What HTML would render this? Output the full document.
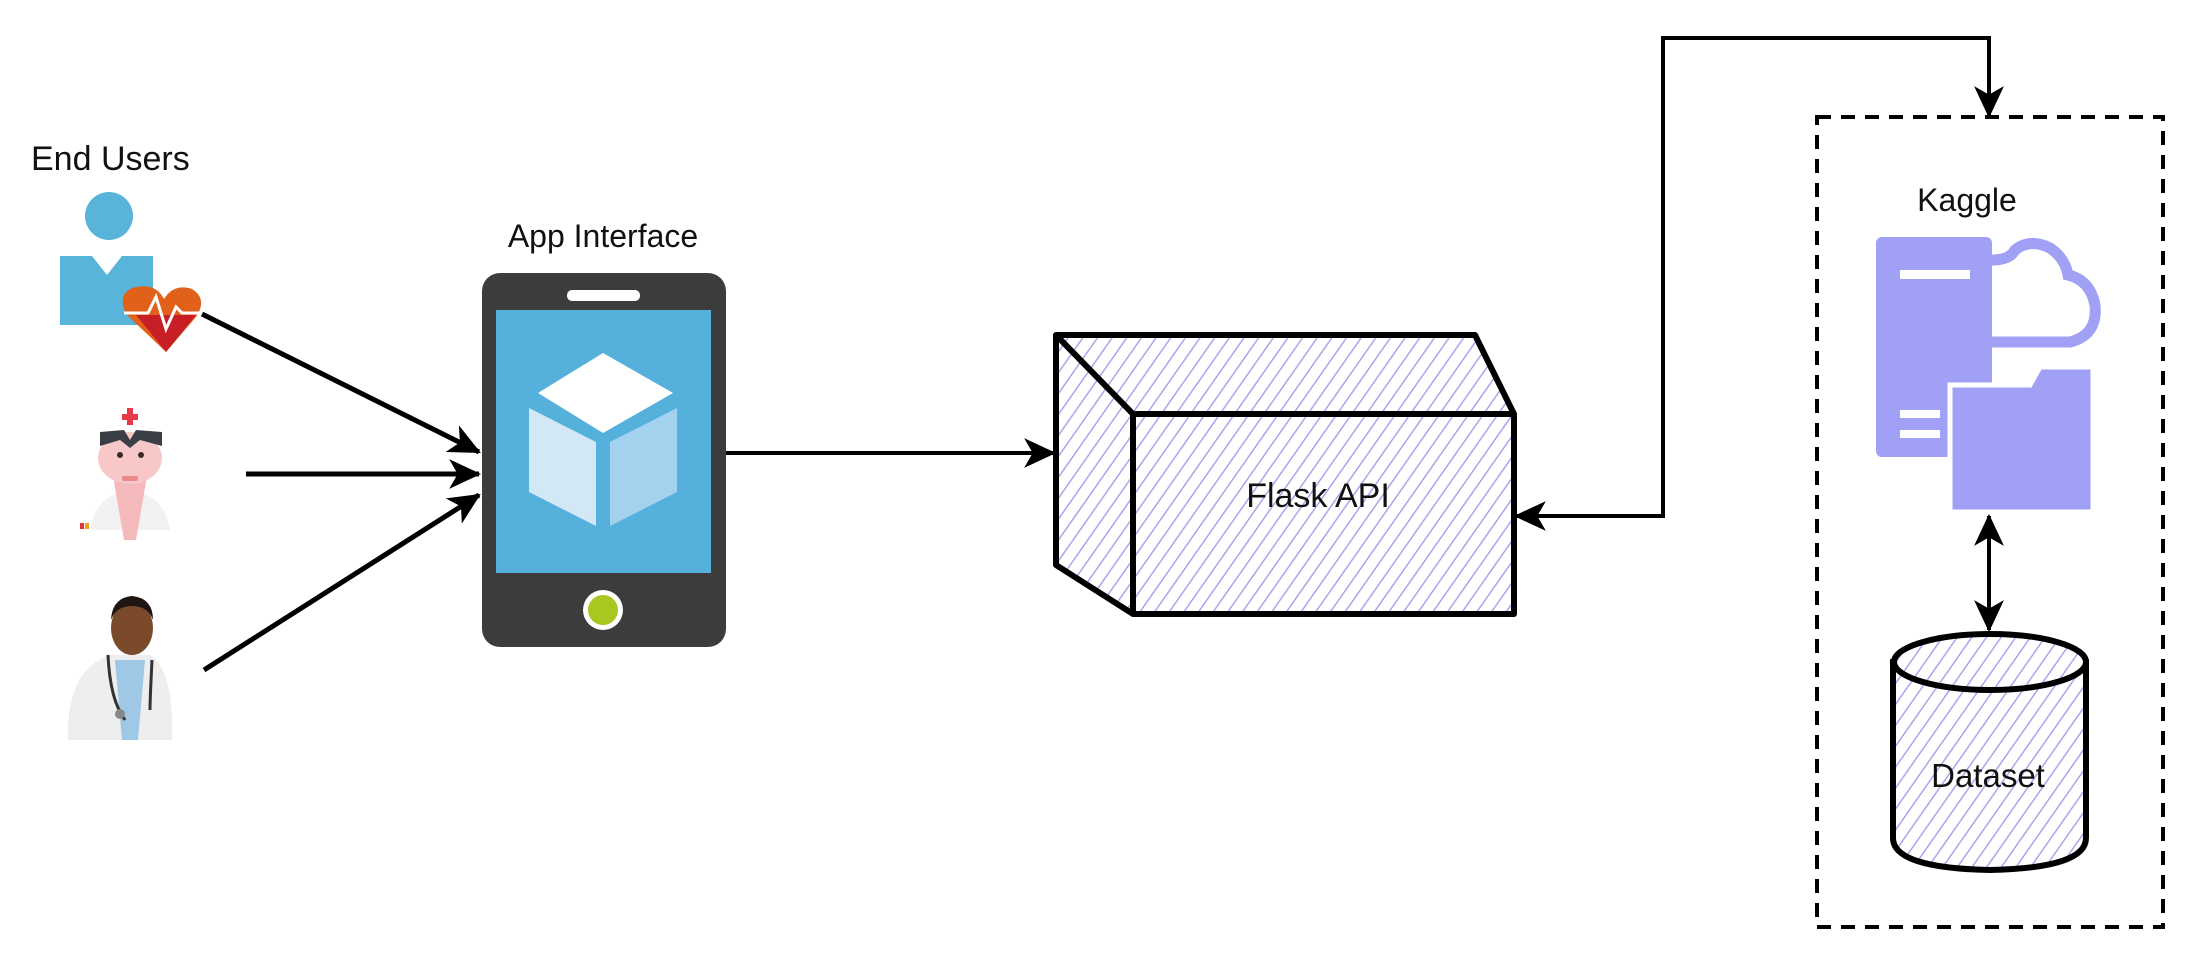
<!DOCTYPE html>
<html><head><meta charset="utf-8"><style>
html,body{margin:0;padding:0;background:#fff;}
svg{display:block;}
text{font-family:"Liberation Sans",sans-serif;fill:#111;}
</style></head><body>
<svg width="2187" height="963" viewBox="0 0 2187 963" xmlns="http://www.w3.org/2000/svg">
<defs>
<pattern id="h" patternUnits="userSpaceOnUse" width="12" height="12" patternTransform="rotate(35)">
<rect width="12" height="12" fill="#fff"/>
<line x1="0" y1="0" x2="0" y2="12" stroke="#aaa4ee" stroke-width="3"/>
</pattern>
<marker id="b" viewBox="0 0 30 30" markerWidth="32" markerHeight="32" refX="28" refY="15" orient="auto-start-reverse" markerUnits="userSpaceOnUse">
<path d="M0,1 L30,15 L0,29 L8,15 Z" fill="#000"/>
</marker>
</defs>

<!-- End users -->
<text x="31" y="170" font-size="34">End Users</text>
<circle cx="109" cy="216" r="24" fill="#59b4d9"/>
<path d="M60,256 L92,256 L107,275 L122,256 L153,256 L153,325 L60,325 Z" fill="#59b4d9"/>
<path d="M166,352 L126,314 Q116,292 136,287 Q156,283 164,299 Q174,283 192,289 Q208,299 196,317 Z" fill="#e2611a"/>
<path d="M136,315 L196,315 L166,352 Z" fill="#c81e25"/>
<path d="M124,313 L148,313 L156,297 L166,329 L176,307 L182,313 L204,313" fill="none" stroke="#fff" stroke-width="3"/>

<!-- nurse -->
<rect x="127" y="408" width="6" height="17" fill="#e8394a"/>
<rect x="122" y="414" width="16" height="6" fill="#e8394a"/>
<path d="M90,530 Q95,495 130,490 Q165,495 170,530 Z" fill="#f2f2f2"/>
<path d="M112,470 L148,470 L136,540 L124,540 Z" fill="#f4b9bb"/>
<ellipse cx="130" cy="458" rx="32" ry="26" fill="#f8c8c8"/>
<path d="M100,432 L124,430 L130,440 L136,430 L162,432 L162,446 L140,440 L130,448 L120,440 L100,446 Z" fill="#3a3f45"/>
<circle cx="120" cy="455" r="3" fill="#3a2a2a"/><circle cx="141" cy="455" r="3" fill="#3a2a2a"/>
<rect x="122" y="476" width="16" height="5" rx="2" fill="#e88a8c"/>
<rect x="80" y="523" width="4" height="6" fill="#d33"/><rect x="85" y="523" width="4" height="6" fill="#e9a520"/>

<!-- doctor -->
<path d="M68,740 Q66,670 110,655 L150,655 Q174,670 172,740 Z" fill="#eeeeee"/>
<path d="M115,660 L145,660 L138,740 L122,740 Z" fill="#9ec8e6"/>
<path d="M108,655 Q110,700 125,720 M152,660 Q150,700 150,710" stroke="#333" stroke-width="3" fill="none"/>
<circle cx="120" cy="714" r="5" fill="#888"/>
<ellipse cx="132" cy="628" rx="21" ry="27" fill="#7a4a2a"/>
<path d="M111,620 Q112,598 132,596 Q153,598 153,620 Q148,606 132,606 Q116,606 111,620 Z" fill="#1d1612"/>

<!-- arrows to app -->
<line x1="202" y1="314" x2="479" y2="452" stroke="#000" stroke-width="5" marker-end="url(#b)"/>
<line x1="246" y1="474" x2="479" y2="474" stroke="#000" stroke-width="5" marker-end="url(#b)"/>
<line x1="204" y1="670" x2="479" y2="495" stroke="#000" stroke-width="5" marker-end="url(#b)"/>

<!-- phone -->
<text x="603" y="247" font-size="32" text-anchor="middle">App Interface</text>
<rect x="482" y="273" width="244" height="374" rx="18" fill="#3c3c3c"/>
<rect x="496" y="310" width="215" height="263" fill="#55b1dc"/>
<rect x="567" y="290" width="73" height="11" rx="5" fill="#fff"/>
<circle cx="603" cy="610" r="20" fill="#fff"/>
<circle cx="603" cy="610" r="15" fill="#a8c81f"/>
<path d="M603,353 L673,393 L603,433 L538,393 Z" fill="#fff"/>
<path d="M529,408 L596,442 L596,526 L529,492 Z" fill="#d2e8f5"/>
<path d="M677,408 L610,442 L610,526 L677,492 Z" fill="#a4d2ee"/>

<line x1="726" y1="453" x2="1054" y2="453" stroke="#000" stroke-width="4" marker-end="url(#b)"/>

<!-- Flask box -->
<path d="M1056,335 L1475,335 L1514,414 L1514,614 L1133,614 L1056,565 Z" fill="url(#h)" stroke="#000" stroke-width="6" stroke-linejoin="round"/>
<path d="M1056,335 L1133,414 L1514,414 M1133,414 L1133,614" fill="none" stroke="#000" stroke-width="6"/>
<text x="1318" y="507" font-size="34" text-anchor="middle">Flask API</text>

<!-- connector -->
<polyline points="1665,516 1663,516 1663,38 1989,38 1989,115" fill="none" stroke="#000" stroke-width="4"/>
<line x1="1663" y1="516" x2="1516" y2="516" stroke="#000" stroke-width="4" marker-end="url(#b)"/>
<line x1="1989" y1="100" x2="1989" y2="116" stroke="#000" stroke-width="4" marker-end="url(#b)"/>

<!-- Kaggle container -->
<rect x="1817" y="117" width="346" height="810" fill="none" stroke="#000" stroke-width="4" stroke-dasharray="14,10"/>
<text x="1967" y="211" font-size="32" text-anchor="middle">Kaggle</text>
<rect x="1876" y="237" width="116" height="220" rx="6" fill="#a0a0f5"/>
<rect x="1900" y="270" width="70" height="9" fill="#fff"/>
<rect x="1900" y="410" width="40" height="8" fill="#fff"/><rect x="1900" y="430" width="40" height="8" fill="#fff"/>
<path d="M1992,260 Q2010,260 2015,250 Q2030,238 2050,248 Q2065,258 2068,275 Q2090,280 2095,305 Q2098,335 2070,342 L1992,342" fill="none" stroke="#a0a0f5" stroke-width="11"/>
<path d="M1950,385 L2030,385 L2040,367 L2093,367 L2093,512 L1950,512 Z" fill="#a0a0f5" stroke="#fff" stroke-width="5"/>
<line x1="1989" y1="516" x2="1989" y2="630" stroke="#000" stroke-width="4" marker-start="url(#b)" marker-end="url(#b)"/>

<!-- Dataset cylinder -->
<path d="M1893,662 L1893,838 Q1893,868 1990,870 Q2086,868 2086,838 L2086,662 Z" fill="url(#h)" stroke="#000" stroke-width="6"/>
<ellipse cx="1990" cy="662" rx="96" ry="28" fill="url(#h)" stroke="#000" stroke-width="6"/>
<text x="1988" y="787" font-size="33" text-anchor="middle">Dataset</text>
</svg>
</body></html>
